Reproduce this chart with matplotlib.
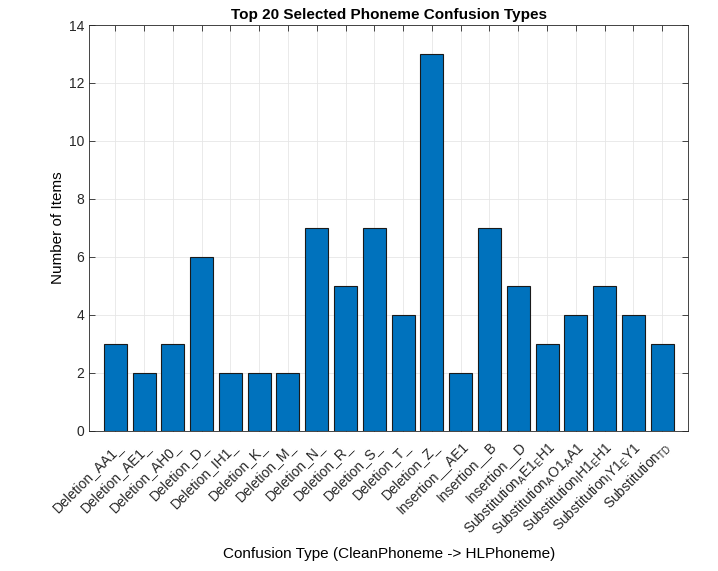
import matplotlib
matplotlib.use("Agg")
import matplotlib.pyplot as plt
import numpy as np

plt.rcParams['font.family'] = ['Liberation Sans', 'DejaVu Sans']
plt.rcParams['mathtext.fontset'] = 'custom'
plt.rcParams['mathtext.rm'] = 'Liberation Sans'

labels = ["Deletion_AA1_", "Deletion_AE1_", "Deletion_AH0_", "Deletion_D_",
          "Deletion_IH1_", "Deletion_K_", "Deletion_M_", "Deletion_N_",
          "Deletion_R_", "Deletion_S_", "Deletion_T_", "Deletion_Z_",
          "Insertion__AE1", "Insertion__B", "Insertion__D",
          r"Substitution$_{\rm A}$E1$_{\rm E}$H1",
          r"Substitution$_{\rm A}$O1$_{\rm A}$A1",
          r"Substitution$_{\rm I}$H1$_{\rm E}$H1",
          r"Substitution$_{\rm I}$Y1$_{\rm E}$Y1",
          r"Substitution$_{\rm TD}$"]
counts = [3, 2, 3, 6, 2, 2, 2, 7, 5, 7, 4, 13, 2, 7, 5, 3, 4, 5, 4, 3]

fig = plt.figure(figsize=(7.18, 5.71), dpi=100)
ax = fig.add_axes([0.1244, 0.2457, 0.834, 0.7105])
x = np.arange(1, len(counts) + 1)
ax.bar(x, counts, width=0.8, color='#0072BD', edgecolor='#1a1a1a', linewidth=0.8, zorder=3)
ax.set_xlim(0.1, 20.9)
ax.set_ylim(0, 14)
ax.set_yticks(np.arange(0, 15, 2))
ax.set_xticks(x)
ax.set_xticklabels(labels, rotation=45, ha='right', rotation_mode='anchor', fontsize=10)
ax.tick_params(axis='both', direction='in', top=True, right=True, labelsize=10,
               length=4, width=0.6, colors='#262626')
ax.tick_params(axis='x', pad=6)
ax.grid(True, color='#e6e6e6', linewidth=0.6, zorder=0)
for s in ax.spines.values():
    s.set_color('#262626')
    s.set_linewidth(0.6)
ax.set_title('Top 20 Selected Phoneme Confusion Types', fontsize=11, fontweight='bold', pad=4)
ax.set_ylabel('Number of Items', fontsize=11, labelpad=3)
ax.set_xlabel('Confusion Type (CleanPhoneme -> HLPhoneme)', fontsize=11, labelpad=6)
fig.savefig('out.png', dpi=100)
